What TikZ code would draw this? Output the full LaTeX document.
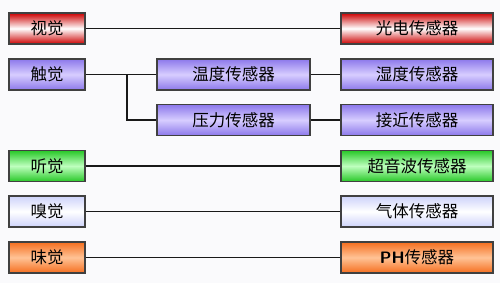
\documentclass[tikz,border=0pt]{standalone}
\usepackage{fontspec}
\newfontfamily\cjk{Noto Sans CJK SC}
\begin{document}
\begin{tikzpicture}[x=1pt,y=-1pt,
  box/.style={draw=black!75, line width=1.3pt, minimum height=31pt, inner sep=0pt, font=\cjk\fontsize{16.5}{16.5}\selectfont},
  lbox/.style={box, minimum width=76pt},
  mbox/.style={box, minimum width=153pt},
  rbox/.style={box, minimum width=152pt},
  redf/.style={top color=red!80!black, bottom color=red!80!black, middle color=white},
  purfill/.style={top color={rgb,255:red,140;green,120;blue,235}, bottom color={rgb,255:red,140;green,120;blue,235}, middle color={rgb,255:red,215;green,205;blue,255}},
  grnf/.style={top color={rgb,255:red,40;green,200;blue,40}, bottom color={rgb,255:red,40;green,200;blue,40}, middle color={rgb,255:red,190;green,255;blue,190}},
  bluf/.style={top color={rgb,255:red,205;green,210;blue,250}, bottom color={rgb,255:red,205;green,210;blue,250}, middle color=white},
  orgf/.style={top color={rgb,255:red,245;green,110;blue,30}, bottom color={rgb,255:red,245;green,110;blue,30}, middle color={rgb,255:red,255;green,195;blue,150}},
  link/.style={draw=black!90, line width=1.4pt}]
\useasboundingbox[fill={rgb,255:red,250;green,250;blue,252}] (0,0) rectangle (500,283);
% left column
\node[lbox, redf] (a1) at (47,28.5) {视觉};
\node[lbox, purfill] (a2) at (47,74.5) {触觉};
\node[lbox, grnf] (a3) at (47,166) {听觉};
\node[lbox, bluf] (a4) at (47,211.5) {嗅觉};
\node[lbox, orgf] (a5) at (47,257.5) {味觉};
% middle column
\node[mbox, purfill] (m1) at (233.5,74.5) {温度传感器};
\node[mbox, purfill] (m2) at (233.5,120) {压力传感器};
% right column
\node[rbox, redf] (r1) at (417,28.5) {光电传感器};
\node[rbox, purfill] (r2) at (417,74.5) {湿度传感器};
\node[rbox, purfill] (r3) at (417,120) {接近传感器};
\node[rbox, grnf] (r4) at (417,166) {超音波传感器};
\node[rbox, bluf] (r5) at (417,211.5) {气体传感器};
\node[rbox, orgf] (r6) at (417,257.5) {{\sffamily\bfseries PH}传感器};
\coordinate (br) at (127,74.5);
% connectors
\draw[link] (a1) -- (r1);
\draw[link] (a2) -- (m1);
\draw[link] (br) |- (m2);
\draw[link] (m1) -- (r2);
\draw[link] (m2) -- (r3);
\draw[link] (a3) -- (r4);
\draw[link] (a4) -- (r5);
\draw[link] (a5) -- (r6);
\end{tikzpicture}
\end{document}
